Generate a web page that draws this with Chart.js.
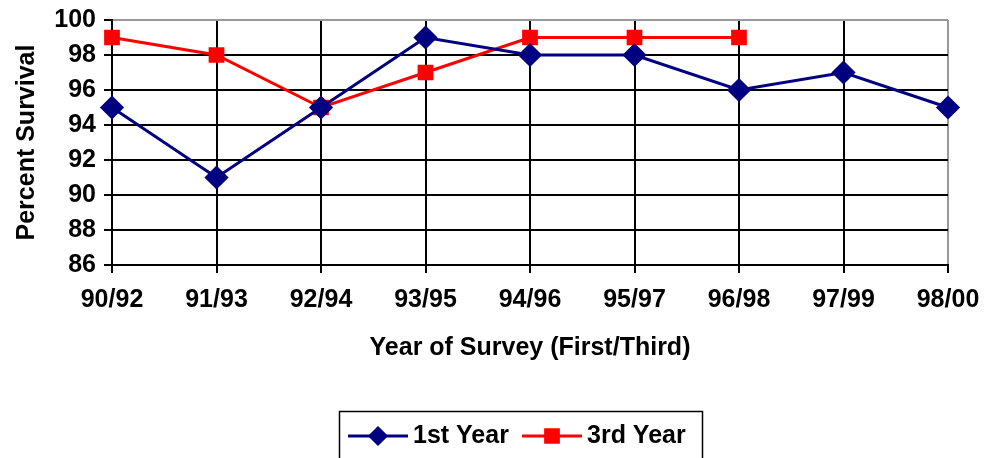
<!DOCTYPE html>
<html lang="en">
<head>
    <meta charset="UTF-8">
    <title>Percent Survival</title>
    <script src="https://cdn.jsdelivr.net/npm/chart.js"></script>
    <style>
        html, body {
            margin: 0;
            padding: 0;
            background: #ffffff;
        }
        #chart-container {
            width: 984px;
            height: 458px;
        }
    </style>
</head>
<body>
    <div id="chart-container">
        <canvas id="survivalChart" width="984" height="458"></canvas>
    </div>

    <script>
        const surveyYears = ['90/92', '91/93', '92/94', '93/95', '94/96', '95/97', '96/98', '97/99', '98/00'];
        const firstYear = [95, 91, 95, 99, 98, 98, 96, 97, 95];
        const thirdYear = [99, 98, 95, 97, 99, 99, 99, null, null];

        const family = "'Liberation Sans', Arial, sans-serif";
        const tickFont = { family: family, size: 25, weight: 'bold' };

        // legend drawn by hand: line + marker samples inside a box
        const boxLegend = {
            id: 'boxLegend',
            afterDraw(chart) {
                const c = chart.ctx;
                c.save();
                c.strokeStyle = '#000';
                c.lineWidth = 1.5;
                c.strokeRect(339.5, 411.5, 363, 60);
                c.font = "bold 25px " + family;
                c.textBaseline = 'middle';
                const y = 436;
                const starts = [348, 522];
                chart.data.datasets.forEach((ds, i) => {
                    const x = starts[i];
                    c.strokeStyle = ds.borderColor;
                    c.lineWidth = 3;
                    c.beginPath();
                    c.moveTo(x, y);
                    c.lineTo(x + 60, y);
                    c.stroke();
                    Chart.helpers.drawPoint(c, {
                        pointStyle: ds.pointStyle,
                        radius: ds.pointStyle === 'rectRot' ? 8 : 9,
                        rotation: 0,
                        borderWidth: 1
                    }, x + 30, y);
                    c.fillStyle = ds.borderColor;
                    c.fill();
                    c.fillStyle = '#000';
                    c.fillText(ds.label, x + 65, y);
                });
                c.restore();
            }
        };

        new Chart(document.getElementById('survivalChart'), {
            type: 'line',
            data: {
                labels: surveyYears,
                datasets: [
                    {
                        label: '1st Year',
                        data: firstYear,
                        borderColor: '#000080',
                        backgroundColor: '#000080',
                        borderWidth: 3,
                        pointStyle: 'rectRot',
                        pointRadius: 10,
                        pointHoverRadius: 10,
                        tension: 0
                    },
                    {
                        label: '3rd Year',
                        data: thirdYear,
                        borderColor: '#ff0000',
                        backgroundColor: '#ff0000',
                        borderWidth: 3,
                        pointStyle: 'rect',
                        pointRadius: 9,
                        pointHoverRadius: 9,
                        tension: 0,
                        spanGaps: false
                    }
                ]
            },
            options: {
                responsive: false,
                animation: false,
                layout: { padding: { top: 20, right: 36, bottom: 85, left: 0 } },
                plugins: {
                    legend: { display: false },
                    tooltip: { enabled: false }
                },
                scales: {
                    x: {
                        offset: false,
                        grid: {
                            color: ctx => ctx.index === surveyYears.length - 1 ? '#999' : '#000',
                            lineWidth: 2,
                            tickLength: 8,
                            tickColor: '#000'
                        },
                        border: { color: '#000', width: 2 },
                        ticks: { color: '#000', font: tickFont, maxRotation: 0, padding: 12 },
                        title: {
                            display: true,
                            text: 'Year of Survey (First/Third)',
                            color: '#000',
                            font: { family: family, size: 25, weight: 'bold' },
                            padding: { top: 10, bottom: 10 }
                        },
                        afterFit: scale => {
                            scale.height = 108;
                            scale.paddingLeft = 0;
                            scale.paddingRight = 0;
                        }
                    },
                    y: {
                        min: 86,
                        max: 100,
                        ticks: { stepSize: 2, color: '#000', font: tickFont, padding: 8 },
                        grid: {
                            color: ctx => ctx.tick && ctx.tick.value === 100 ? '#999' : '#000',
                            lineWidth: 2,
                            tickLength: 8,
                            tickColor: '#000'
                        },
                        border: { color: '#000', width: 2 },
                        title: {
                            display: true,
                            text: 'Percent Survival',
                            color: '#000',
                            font: { family: family, size: 25, weight: 'bold' },
                            padding: { top: 12, bottom: 2 }
                        },
                        afterFit: scale => {
                            scale.width = 112;
                            scale.paddingTop = 0;
                            scale.paddingBottom = 0;
                        }
                    }
                }
            },
            plugins: [boxLegend]
        });
    </script>
</body>
</html>
